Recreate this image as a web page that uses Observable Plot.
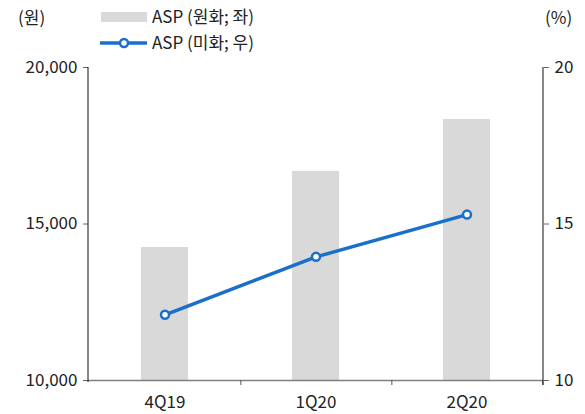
<!DOCTYPE html>
<html><head><meta charset="utf-8">
<script src="https://cdn.jsdelivr.net/npm/d3@7"></script>
<script src="https://cdn.jsdelivr.net/npm/@observablehq/plot@0.6"></script>
<style>
body{margin:0;background:#fff;font-family:"Noto Sans CJK KR","Noto Sans",sans-serif;}
#wrap{position:relative;width:585px;height:414px;}
.lg{position:absolute;font-size:17px;color:#222;white-space:nowrap;line-height:1;}
</style></head><body>
<div id="wrap"></div>
<script>
const categories = ["4Q19", "1Q20", "2Q20"];
const aspKRW = [14250, 16680, 18340];
const aspUSD = [12.1, 13.95, 15.3];
const leftTicks = [10000, 15000, 20000];
const rightTicks = [10, 15, 20];
const seriesNames = ["ASP (원화; 좌)", "ASP (미화; 우)"];
const unitLeft = "(원)", unitRight = "(%)";

const data = categories.map((c, i) => ({cat: c, krw: aspKRW[i], usd: aspUSD[i]}));
// right axis maps [10,20] onto left [10000,20000]
const toLeft = v => 10000 + (v - 10) * 1000;
const font = '"Noto Sans CJK KR","Noto Sans",sans-serif';

const chart = Plot.plot({
  width: 585, height: 414,
  marginLeft: 88, marginRight: 42, marginTop: 67, marginBottom: 34,
  style: {fontFamily: font, fontSize: "17px", color: "#222", background: "#fff", overflow: "visible"},
  x: {domain: categories, padding: 0, label: null},
  y: {domain: [10000, 20000], label: null},
  marks: [
    Plot.barY(data, {x: "cat", y1: 10000, y2: "krw", fill: "#d9d9d9", insetLeft: 52, insetRight: 52}),
    Plot.ruleY([10000], {stroke: "#808080", strokeWidth: 1.5}),
    Plot.ruleX(categories, {x: d => d, y1: 10000, y2: 9840, dx: 455 / 6, stroke: "#555"}),
    Plot.axisX({tickSize: 0, tickPadding: 15, fontSize: 17}),
    Plot.axisY(leftTicks, {anchor: "left", tickSize: 5, tickPadding: 6, tickFormat: d3.format(","), stroke: "#666", label: null}),
    Plot.axisY(rightTicks.map(toLeft), {anchor: "right", tickSize: 5, tickPadding: 6, tickFormat: d => String((d - 10000) / 1000 + 10), stroke: "#666", label: null}),
    Plot.line(data, {x: "cat", y: d => toLeft(d.usd), stroke: "#1a6fcc", strokeWidth: 3.5}),
    Plot.dot(data, {x: "cat", y: d => toLeft(d.usd), r: 4, stroke: "#1a6fcc", strokeWidth: 2.5, fill: "#fff"})
  ]
});
const wrap = document.getElementById("wrap");
wrap.appendChild(chart);

// vertical axis lines placed through the plot's y scale
const ys = chart.scale("y");
const svg = d3.select(chart);
const x0 = 88, x1 = 585 - 42;
svg.append("line").attr("x1", x0).attr("x2", x0).attr("y1", ys.apply(20000)).attr("y2", ys.apply(10000) + 2).attr("stroke", "#111");
svg.append("line").attr("x1", x1).attr("x2", x1).attr("y1", ys.apply(20000)).attr("y2", ys.apply(10000) + 5).attr("stroke", "#111");

function lbl(text, left, top) {
  const d = document.createElement("div");
  d.className = "lg"; d.textContent = text;
  d.style.left = left + "px"; d.style.top = top + "px";
  wrap.appendChild(d);
  return d;
}
lbl(unitLeft, 18, 8);
lbl(unitRight, 545, 8);
lbl(seriesNames[0], 152, 7);
lbl(seriesNames[1], 152, 33);
const sw = document.createElement("div");
sw.style.cssText = "position:absolute;left:101px;top:12px;width:46px;height:10px;background:#d9d9d9";
wrap.appendChild(sw);
const ln = document.createElementNS("http://www.w3.org/2000/svg", "svg");
ln.setAttribute("width", 50); ln.setAttribute("height", 16);
ln.style.cssText = "position:absolute;left:99px;top:35px";
ln.innerHTML = '<line x1="1" x2="48" y1="8" y2="8" stroke="#1a6fcc" stroke-width="3.5"/><circle cx="25" cy="8" r="4" fill="#fff" stroke="#1a6fcc" stroke-width="2.5"/>';
wrap.appendChild(ln);
</script>
</body></html>
